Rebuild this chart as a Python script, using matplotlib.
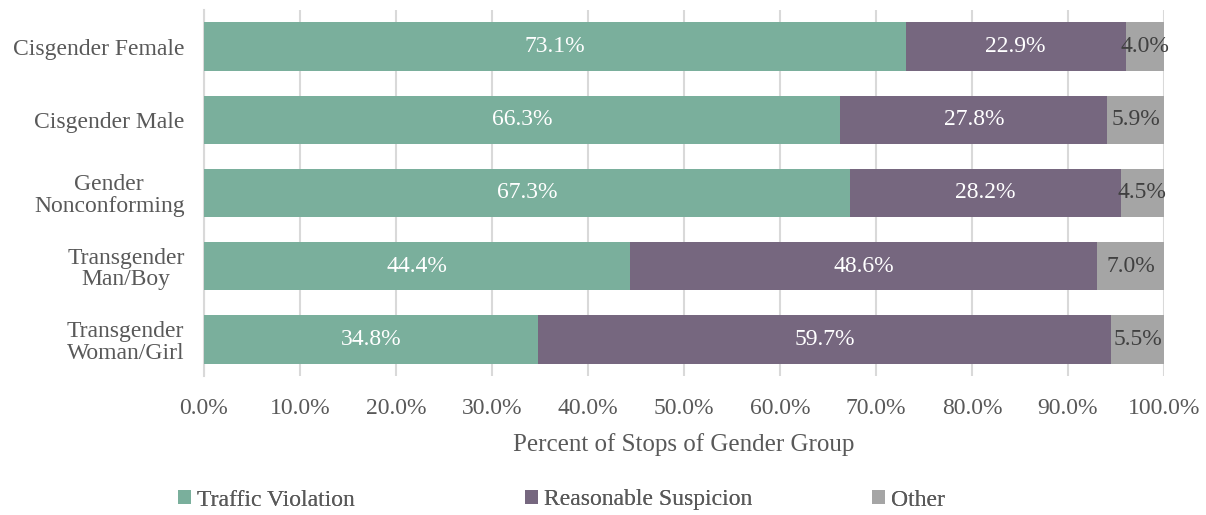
import matplotlib.pyplot as plt
import numpy as np

plt.rcParams['font.family'] = ['Liberation Serif', 'DejaVu Serif']

groups = ['Cisgender Female', 'Cisgender Male', 'Gender\nNonconforming',
          'Transgender\nMan/Boy', 'Transgender\nWoman/Girl']
traffic = [73.1, 66.3, 67.3, 44.4, 34.8]
suspicion = [22.9, 27.8, 28.2, 48.6, 59.7]
other = [4.0, 5.9, 4.5, 7.0, 5.5]

series = [('Traffic Violation', traffic, '#7aaf9c', 'white'),
          ('Reasonable Suspicion', suspicion, '#76677f', 'white'),
          ('Other', other, '#a5a5a5', '#404040')]

fig = plt.figure(figsize=(12.06, 5.15), dpi=100)
ax = fig.add_axes([204 / 1206, 1 - 376 / 515, 960 / 1206, 366 / 515])

y = np.arange(len(groups))
left = np.zeros(len(groups))
handles = []
for name, vals, color, tcol in series:
    vals = np.array(vals)
    bars = ax.barh(y, vals, left=left, height=0.66, color=color, label=name, zorder=3)
    handles.append(bars)
    for yi, l, v in zip(y, left, vals):
        ax.text(l + v / 2, yi, f'{v:.1f}%', ha='center', va='center',
                color=tcol, fontsize=17, zorder=4)
    left += vals

ax.set_xlim(0, 100)
ax.set_ylim(len(groups) - 0.5, -0.5)
ax.set_yticks(y)
ax.set_yticklabels(groups, fontsize=17, color='#595959', linespacing=1.05,
                   multialignment='center')
ax.set_xticks(np.arange(0, 101, 10))
ax.set_xticklabels([f'{t:.1f}%' for t in np.arange(0, 101, 10)], fontsize=17, color='#595959')
ax.tick_params(axis='y', length=0, pad=14)
ax.tick_params(axis='x', length=0, pad=16)
ax.grid(axis='x', color='#d9d9d9', linewidth=1.5, zorder=0)
for s in ['top', 'right', 'bottom']:
    ax.spines[s].set_visible(False)
ax.spines['left'].set_color('#d9d9d9')
ax.spines['left'].set_linewidth(1.5)
ax.set_xlabel('Percent of Stops of Gender Group', fontsize=18, color='#595959', labelpad=10)

# equal-width legend slots, like the original
for h, xpos in zip(handles, [178, 525, 872]):
    leg = fig.legend([h], [h.get_label()], loc='center left',
                     bbox_to_anchor=(xpos / 1206, 1 - 500 / 515), frameon=False,
                     fontsize=17, handlelength=0.55, handleheight=0.55,
                     handletextpad=0.25, borderpad=0, borderaxespad=0,
                     labelcolor='#595959')
    fig.add_artist(leg)

fig.savefig('out.png', dpi=100)
